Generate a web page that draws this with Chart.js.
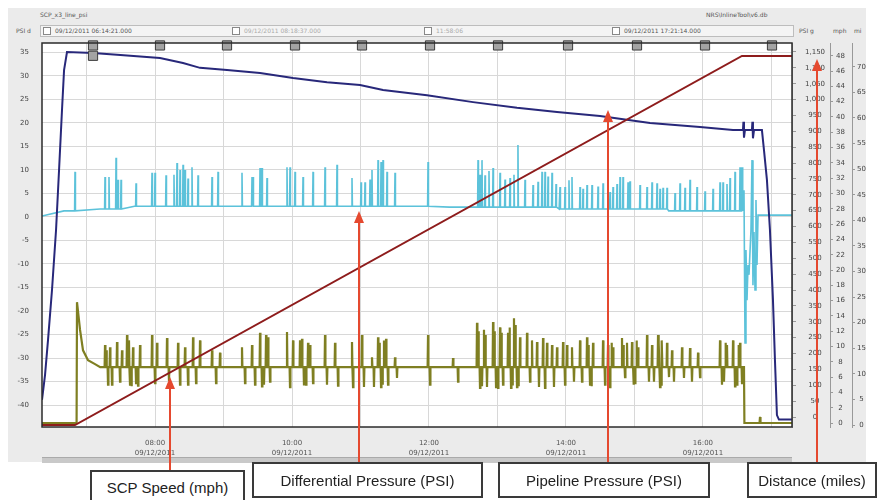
<!DOCTYPE html>
<html><head><meta charset="utf-8">
<script src="https://cdn.jsdelivr.net/npm/chart.js@4"></script>
<style>
body{margin:0;width:888px;height:500px;background:#fff;position:relative;overflow:hidden;font-family:"DejaVu Sans",sans-serif;}
#panel{position:absolute;left:8px;top:8px;width:858px;height:454px;background:#ebebeb;}
#strip{position:absolute;left:40px;top:25px;width:752px;height:10px;background:#f4f4f4;border:1px solid #bdbdbd;}
.hdr{position:absolute;font-size:6px;line-height:7px;color:#555;white-space:nowrap;}
.cb{position:absolute;width:6px;height:6px;border:1px solid #888;background:#fff;}
#scroll{position:absolute;left:42px;top:457px;width:750px;height:5px;background:#c9c9c9;border-top:1px solid #aaa;}
canvas{position:absolute;left:0;top:0;}
svg{position:absolute;left:0;top:0;}
.box{position:absolute;background:#fff;border:2px solid #3a3a3a;font-family:"Liberation Sans",Arial,sans-serif;font-size:15px;color:#222;display:flex;align-items:center;justify-content:center;box-sizing:border-box;}
</style></head>
<body>
<div id="panel"></div>
<div class="hdr" style="left:40px;top:11px;">SCP_x3_line_psi</div>
<div class="hdr" style="left:706px;top:11px;">NRS\InlineTool\v6.db</div>
<div class="hdr" style="left:16px;top:27px;">PSI d</div>
<div id="strip"></div>
<div class="cb" style="left:43px;top:27px;"></div>
<div class="hdr" style="left:55px;top:27px;">09/12/2011 06:14:21.000</div>
<div class="cb" style="left:232px;top:27px;"></div>
<div class="hdr" style="left:244px;top:27px;color:#aaa;">09/12/2011 08:18:37.000</div>
<div class="cb" style="left:424px;top:27px;"></div>
<div class="hdr" style="left:436px;top:27px;color:#aaa;">11:58:06</div>
<div class="cb" style="left:612px;top:27px;"></div>
<div class="hdr" style="left:624px;top:27px;">09/12/2011 17:21:14.000</div>
<div class="hdr" style="left:799px;top:27px;">PSI g</div>
<div class="hdr" style="left:833px;top:27px;">mph</div>
<div class="hdr" style="left:854px;top:27px;">mi</div>
<div id="scroll"></div>
<canvas id="c" width="888" height="500"></canvas>
<svg width="888" height="500">
 <g stroke="#e5492f" stroke-width="2" fill="#e5492f">
  <line x1="170" y1="471" x2="170" y2="386"/><polygon stroke="none" points="170,377 165,389 175,389"/>
  <line x1="359" y1="463" x2="359" y2="220"/><polygon stroke="none" points="359,211 354,223 364,223"/>
  <line x1="608" y1="463" x2="608" y2="119"/><polygon stroke="none" points="608,110 603,122 613,122"/>
  <line x1="817" y1="463" x2="817" y2="68"/><polygon stroke="none" points="817,59 812,71 822,71"/>
 </g>
</svg>
<div class="box" style="left:90px;top:470px;width:155px;height:36px;padding-bottom:2px;">SCP Speed (mph)</div>
<div class="box" style="left:252px;top:462px;width:231px;height:36px;">Differential Pressure (PSI)</div>
<div class="box" style="left:498px;top:462px;width:212px;height:36px;">Pipeline Pressure (PSI)</div>
<div class="box" style="left:747px;top:462px;width:130px;height:36px;">Distance (miles)</div>
<script>
// ---- tick labels ----
const xTicks = [7,8,9,10,11,12,13,14,15,16,17];
const xLabelHours = [8,10,12,14,16];
const dateLabel = '09/12/2011';
const diffTicks = [-40,-35,-30,-25,-20,-15,-10,-5,0,5,10,15,20,25,30,35];
const psiTicks = [0,50,100,150,200,250,300,350,400,450,500,550,600,650,700,750,800,850,900,950,1000,1050,1100,1150];
const mphTicks = [0,2,4,6,8,10,12,14,16,18,20,22,24,26,28,30,32,34,36,38,40,42,44,46,48];
const miTicks = [0,5,10,15,20,25,30,35,40,45,50,55,60,65,70];

// ---- Distance (miles) ----
const distT = [6.350, 6.832, 16.569, 17.300];
const distV = [0, 0, 72.1, 72.1];

// ---- Pipeline pressure (PSI g) ----
const pipeT = [6.350,6.394,6.438,6.496,6.555,6.599,6.642,6.672,6.715,7.095,7.445,8.073,8.409,8.657,9.051,9.533,10.015,10.511,10.993,11.329,11.971,12.643,13.285,13.869,14.497,15.227,15.957,16.439,16.584,16.591,16.599,16.613,16.715,16.722,16.730,16.745,16.861,16.891,16.934,16.978,17.022,17.051,17.080,17.109,17.299];
const pipeV = [54,132,243,400,589,778,967,1093,1150,1147,1141,1131,1115,1100,1093,1084,1068,1055,1046,1030,1014,992,974,961,948,926,914,904,904,930,880,904,904,930,878,904,904,841,747,589,369,180,6,-8,-8];

// ---- Differential pressure (PSI d) ----
const diffBaseT = [6.350,6.671,7.197,7.700,12.300,13.900,15.500];
const diffBaseV = [0.2,1.3,1.7,2.3,2.1,1.7,1.3];
const diffSpikeT = [6.832,7.270,7.328,7.431,7.460,7.504,7.723,7.956,8.000,8.161,8.321,8.365,8.409,8.438,8.540,8.628,8.832,8.920,9.270,9.416,9.431,9.533,9.562,9.635,9.927,9.971,10.044,10.161,10.307,10.482,10.657,10.876,11.008,11.066,11.168,11.256,11.300,11.329,11.387,11.504,11.986,12.716,12.774,12.818,12.935,13.037,13.183,13.299,13.402,13.519,13.650,13.694,13.796,13.913,13.986,14.088,14.205,14.307,14.380,14.541,14.643,14.687,14.789,14.833,14.906,14.935,15.183,15.256,15.329,15.417,15.475,15.592,15.665,15.811,15.913,16.249,16.293,16.395,16.468,16.541,16.570];
const diffSpikeV = [9.6,8.5,8.5,12.6,7.9,7.9,7.2,9.4,9.4,8.9,11.5,10.0,11.1,10.0,10.6,8.9,8.5,9.6,9.4,8.5,8.5,10.4,10.4,8.3,10.6,10.6,9.6,8.5,9.6,10.6,11.1,8.3,7.4,7.4,10.0,12.1,11.7,12.1,9.6,9.4,11.7,12.1,12.1,8.9,10.4,9.4,8.3,15.3,7.9,6.8,9.6,9.6,9.4,6.4,6.4,8.5,6.4,6.8,6.8,7.2,5.3,6.4,8.5,8.5,7.4,7.6,6.4,7.4,7.2,6.2,6.2,5.1,7.2,7.9,6.4,7.4,7.4,8.3,9.6,10.6,10.6];
const diffSpike2T = [8.277,8.482,11.139,12.745,12.876,13.110,13.241,13.592,13.738,13.855,14.044,14.249,14.468,14.745,15.081,15.373,15.738,16.030,16.147,16.351];
const diffSpike2V = [9.0,8.2,8.0,9.0,9.8,8.0,9.0,7.5,8.6,7.0,7.8,6.0,6.5,7.0,6.8,6.0,6.2,5.5,6.0,7.0];
const diffTailT = [16.584,16.599,16.614,16.628,16.643,16.658,16.672,16.701,16.716,16.730,16.745,16.760,16.774,16.789,16.804,17.300];
const diffTailV = [1.9,5.7,-26.8,-7.0,-17.7,-10.2,-12.3,-2.8,12.1,-14.5,-3.2,-15.5,3.6,-10.2,0.4,0.4];

// ---- SCP speed (mph) ----
const speedHeadT = [6.350,6.855,6.861,6.905,6.949,7.022,7.124];
const speedHeadV = [0,0,15.8,12.2,9.5,8.2,7.7];
const speedBaseT = [7.200];
const speedBaseV = [7.3];
const speedSpikeT = [7.270,7.314,7.343,7.372,7.445,7.489,7.518,7.591,7.635,7.679,7.723,7.781,7.956,8.000,8.029,8.175,8.204,8.336,8.365,8.438,8.482,8.555,8.599,8.657,8.832,8.891,8.949,9.270,9.314,9.416,9.460,9.533,9.591,9.650,9.679,9.927,9.971,10.015,10.117,10.175,10.234,10.307,10.482,10.511,10.628,10.672,10.876,10.891,11.022,11.051,11.168,11.197,11.256,11.300,11.343,11.402,11.504,11.533,11.986,12.015,12.351,12.424,12.701,12.745,12.803,12.847,12.935,12.979,13.037,13.081,13.154,13.198,13.241,13.285,13.329,13.431,13.475,13.504,13.577,13.606,13.665,13.694,13.723,13.796,13.825,13.869,13.957,13.986,14.015,14.088,14.117,14.205,14.234,14.307,14.351,14.395,14.541,14.570,14.614,14.643,14.687,14.818,14.862,14.891,14.964,15.008,15.052,15.183,15.212,15.256,15.285,15.344,15.373,15.402,15.475,15.504,15.548,15.577,15.694,15.723,15.811,15.840,15.928,15.957,16.249,16.307,16.351,16.439,16.497,16.541,16.570];
const speedSpikeV = [10.2,5.0,9.9,5.0,10.6,5.4,9.5,11.5,5.0,9.9,5.2,10.2,11.5,5.2,10.5,11.1,5.5,10.5,5.0,9.9,5.0,11.2,5.2,10.8,9.5,5.2,9.2,9.9,5.2,10.2,5.0,11.8,5.0,11.2,5.4,11.9,4.7,10.8,10.8,4.9,10.5,5.2,11.5,5.0,10.5,4.9,10.6,4.7,11.5,4.7,8.6,4.7,11.2,4.7,10.8,5.0,8.6,5.9,11.5,5.0,8.5,5.4,13.1,4.6,12.2,4.7,13.2,4.7,12.5,5.0,11.8,4.6,13.7,4.7,11.2,11.8,5.4,10.8,10.6,4.7,11.1,4.6,10.5,10.2,4.7,9.9,10.6,5.0,10.2,9.9,5.4,10.8,5.4,11.2,5.0,10.5,10.8,5.0,10.2,4.7,9.9,11.1,6.0,10.5,10.6,5.2,9.9,11.5,5.4,10.2,5.4,11.5,4.7,10.8,10.5,6.0,9.5,5.4,9.9,5.9,9.8,5.4,9.2,6.0,10.8,5.4,10.2,10.8,5.0,10.5,5.2];
const speedSpike2T = [7.292,7.620,7.657,7.752,9.562,9.621,10.146,10.205,10.263,11.278,11.322,11.373,12.723,12.774,12.825,12.957,13.008,13.059,13.176,13.220,13.263,13.307,14.329,14.373,14.665,14.840,14.986,15.030,15.358,15.388,16.278,16.329,16.468,16.519];
const speedSpike2V = [9.5,10.8,4.8,4.9,4.8,11.5,11.0,5.0,10.2,10.5,5.0,11.0,12.0,4.8,11.5,12.0,4.6,11.8,12.5,4.9,12.8,4.8,10.2,4.8,10.5,10.2,5.0,10.8,10.5,5.0,5.0,10.5,4.8,10.2];
const speedTailT = [16.599,16.605,16.826,16.833,16.840,17.300];
const speedTailV = [7.3,0,0,0.8,0,0];

// ---- event markers (top flags) ----
const markerT = [7.095,7.095,8.073,9.051,10.044,11.022,12.015,13.008,14.030,15.037,16.030,17.008];
const markerV = [36.5,34.3,36.5,36.5,36.5,36.5,36.5,36.5,36.5,36.5,36.5,36.5];

function pairs(T,V){const n=Math.min(T.length,V.length);const o=[];for(let i=0;i<n;i++)o.push({x:T[i],y:V[i]});return o;}
function spiky(headT,headV,baseT,baseV,spT,spV,tailT,tailV){
  const hw=0.006;
  const baseAt=t=>{let v=baseV[0];for(let i=0;i<baseT.length;i++){if(baseT[i]<=t)v=baseV[i];}return v;};
  let pts=[].concat(pairs(headT,headV),pairs(baseT,baseV));
  const n=Math.min(spT.length,spV.length);
  for(let i=0;i<n;i++){const b=baseAt(spT[i]);pts.push({x:spT[i]-hw,y:b},{x:spT[i],y:spV[i]},{x:spT[i]+hw,y:b});}
  pts=pts.concat(pairs(tailT,tailV));
  pts.sort((a,b)=>a.x-b.x);
  return pts;
}

const tickFont={family:'DejaVu Sans',size:7};
const frame={id:'frame',
  beforeDraw(ch){const a=ch.chartArea,c=ch.ctx;c.save();c.fillStyle='#fff';c.fillRect(a.left,a.top,a.right-a.left,a.bottom-a.top);c.restore();},
  afterDraw(ch){const a=ch.chartArea,c=ch.ctx;c.save();c.strokeStyle='#2b2b2b';c.lineWidth=1.5;c.strokeRect(a.left,a.top,a.right-a.left,a.bottom-a.top);c.restore();}
};
function fixW(w){return s=>{s.width=w;};}
function setTicks(arr){return s=>{s.ticks=arr.map(v=>({value:v}));};}

new Chart(document.getElementById('c'),{
  type:'line',
  data:{datasets:[
    {label:'markers',data:pairs(markerT,markerV),yAxisID:'yD',showLine:false,pointStyle:'rect',pointRadius:6.5,pointBackgroundColor:'#a3a3a3',pointBorderColor:'#3c3c3c',pointBorderWidth:1,clip:false},
    {label:'Distance (miles)',data:pairs(distT,distV),yAxisID:'yMi',borderColor:'#8e1c1c',borderWidth:2,pointRadius:0},
    {label:'Pipeline Pressure (PSI)',data:pairs(pipeT,pipeV),yAxisID:'yPsi',borderColor:'#28287a',borderWidth:2,pointRadius:0},
    {label:'Differential Pressure (PSI)',data:spiky([],[],diffBaseT,diffBaseV,diffSpikeT.concat(diffSpike2T),diffSpikeV.concat(diffSpike2V),diffTailT,diffTailV),yAxisID:'yD',borderColor:'#5cc2da',borderWidth:1.6,pointRadius:0},
    {label:'SCP Speed (mph)',data:spiky(speedHeadT,speedHeadV,speedBaseT,speedBaseV,speedSpikeT.concat(speedSpike2T),speedSpikeV.concat(speedSpike2V),speedTailT,speedTailV),yAxisID:'yMph',borderColor:'#7f7f22',borderWidth:2.2,pointRadius:0}
  ]},
  options:{
    responsive:false,animation:false,devicePixelRatio:1,
    layout:{padding:{left:10,right:22,top:43,bottom:38}},
    plugins:{legend:{display:false},tooltip:{enabled:false}},
    elements:{line:{tension:0}},
    scales:{
      x:{type:'linear',min:6.35,max:17.30,afterBuildTicks:setTicks(xTicks),afterFit:s=>{s.height=35;},
        grid:{color:'#d8d8d8',drawTicks:false},border:{display:false},
        ticks:{font:Object.assign({lineHeight:1.4},tickFont),color:'#555',padding:11,maxRotation:0,autoSkip:false,
          callback:v=>xLabelHours.includes(v)?[String(v).padStart(2,'0')+':00',dateLabel]:''}},
      yD:{position:'left',min:-44.68,max:37.02,afterBuildTicks:setTicks(diffTicks),afterFit:fixW(32),
        grid:{color:'#d8d8d8',drawTicks:false},border:{display:false},
        ticks:{font:tickFont,color:'#444',padding:13,crossAlign:'near'}},
      yPsi:{position:'right',min:-31.5,max:1178.3,afterBuildTicks:setTicks(psiTicks),afterFit:fixW(38),
        grid:{drawOnChartArea:false,tickLength:4,color:'#999'},border:{display:true,color:'#999'},
        ticks:{font:tickFont,color:'#444',padding:9,crossAlign:'center',callback:v=>v.toLocaleString('en-US')}},
      yMph:{position:'right',min:-0.52,max:49.67,afterBuildTicks:setTicks(mphTicks),afterFit:fixW(22),
        grid:{drawOnChartArea:false,tickLength:3,color:'#999'},border:{display:true,color:'#999'},
        ticks:{font:tickFont,color:'#444',padding:3,crossAlign:'center'}},
      yMi:{position:'right',min:-0.39,max:74.64,afterBuildTicks:setTicks(miTicks),afterFit:fixW(14),
        grid:{drawOnChartArea:false,tickLength:3,color:'#999'},border:{display:true,color:'#999'},
        ticks:{font:tickFont,color:'#444',padding:2,crossAlign:'center'}}
    }
  },
  plugins:[frame]
});
</script>
</body></html>
